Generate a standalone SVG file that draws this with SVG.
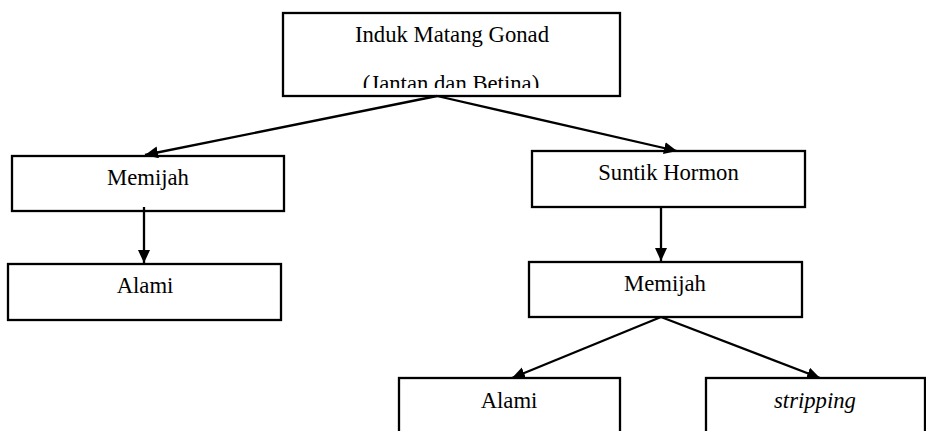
<svg xmlns="http://www.w3.org/2000/svg" width="926" height="431" viewBox="0 0 926 431">
  <style>
    .box { fill: #ffffff; stroke: #000000; stroke-width: 2.3; }
    .lbl { font-family: "Liberation Serif", "Times New Roman", serif; font-size: 22.7px; fill: #000000; text-anchor: middle; }
    .it { font-style: italic; }
    .conn { stroke: #000000; stroke-width: 2.3; fill: none; marker-end: url(#arrow); }
  </style>
  <defs>
    <marker id="arrow" markerUnits="userSpaceOnUse" markerWidth="14" markerHeight="13" refX="13" refY="6" orient="auto">
      <path d="M0,0 L13,6 L0,12 Z" fill="#000000"/>
    </marker>
    <clipPath id="clipTop">
      <rect x="285" y="14" width="333" height="74"/>
    </clipPath>
  </defs>
  <rect width="926" height="431" fill="#ffffff"/>

  <g id="node-induk">
    <rect class="box" x="283" y="13" width="337" height="83"/>
    <g clip-path="url(#clipTop)">
      <text class="lbl" x="452" y="41.7">Induk Matang Gonad</text>
      <text class="lbl" x="451" y="91">(Jantan dan Betina)</text>
    </g>
  </g>

  <g id="node-memijah-left">
    <rect class="box" x="12" y="156" width="272" height="55"/>
    <text class="lbl" x="148" y="185">Memijah</text>
  </g>

  <g id="node-alami-left">
    <rect class="box" x="8" y="264" width="273" height="56"/>
    <text class="lbl" x="145" y="293">Alami</text>
  </g>

  <g id="node-suntik">
    <rect class="box" x="532" y="151" width="273" height="56"/>
    <text class="lbl" x="668.5" y="180">Suntik Hormon</text>
  </g>

  <g id="node-memijah-right">
    <rect class="box" x="529" y="262" width="273" height="55"/>
    <text class="lbl" x="665" y="291">Memijah</text>
  </g>

  <g id="node-alami-bottom">
    <rect class="box" x="399" y="378" width="221" height="70"/>
    <text class="lbl" x="509" y="408">Alami</text>
  </g>

  <g id="node-stripping">
    <rect class="box" x="706" y="378" width="219" height="70"/>
    <text class="lbl it" x="815" y="408">stripping</text>
  </g>

  <g id="connectors">
    <line class="conn" x1="437" y1="96" x2="145" y2="155"/>
    <line class="conn" x1="437" y1="96" x2="677" y2="151"/>
    <line class="conn" x1="144" y1="207" x2="144" y2="263"/>
    <line class="conn" x1="661" y1="207" x2="661" y2="261"/>
    <line class="conn" x1="661" y1="317" x2="512" y2="378"/>
    <line class="conn" x1="661" y1="317" x2="820" y2="378"/>
  </g>
</svg>
